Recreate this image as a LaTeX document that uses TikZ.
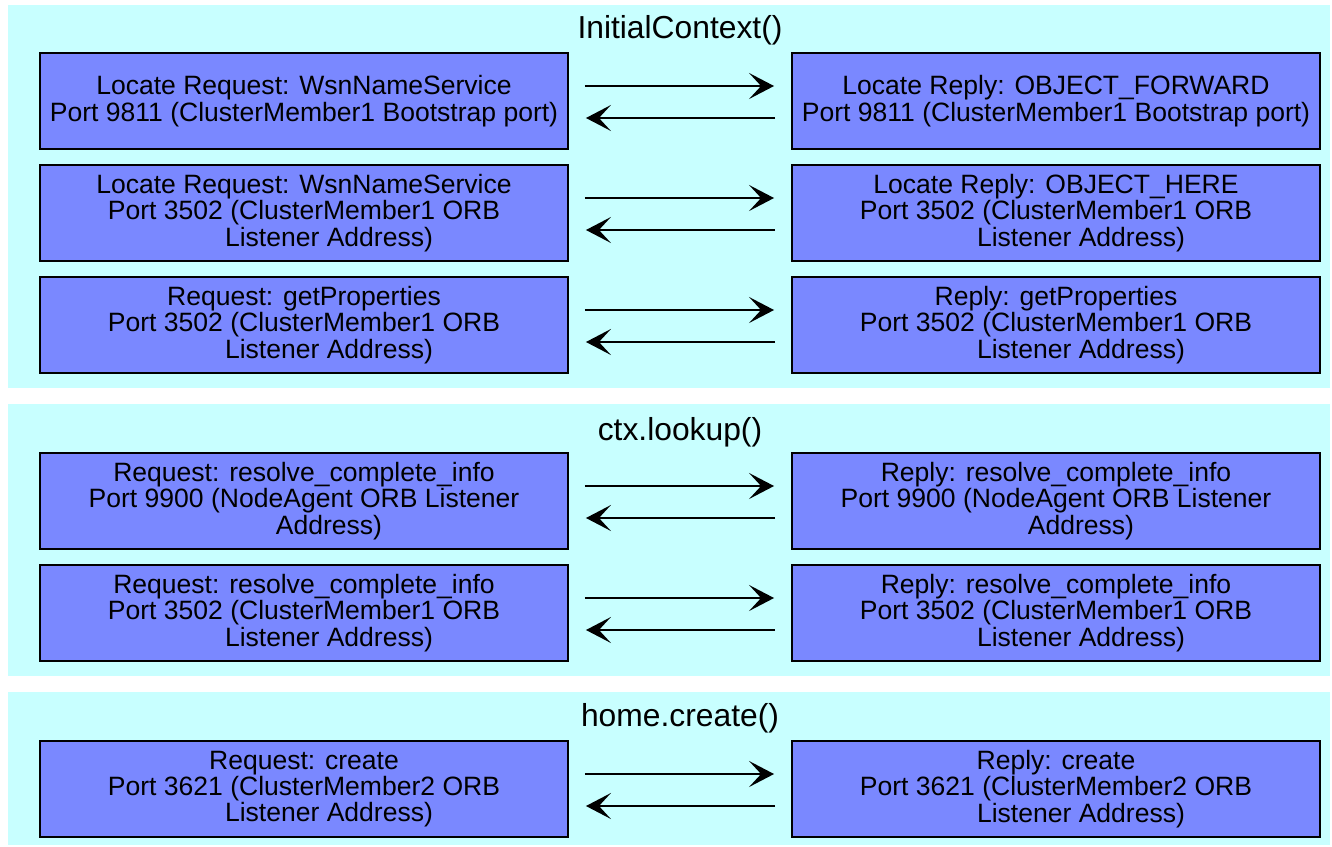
\documentclass[tikz,border=0pt]{standalone}
\usepackage{fontspec}
\setmainfont{Liberation Sans}
\usetikzlibrary{arrows.meta}
\definecolor{panelcyan}{RGB}{200,255,255}
\definecolor{msgblue}{RGB}{122,136,255}
\tikzset{
  panel/.style={fill=panelcyan, draw=none},
  msg/.style={
    draw=black,
    fill=msgblue,
    line width=0.04cm,
    minimum width=10.56cm,
    minimum height=1.92cm,
    inner sep=0pt,
    align=center,
    font=\fontsize{15.1}{15}\selectfont
  },
  phase/.style={font=\fontsize{18.1}{20}\selectfont, inner sep=0pt},
  flow/.style={
    line width=0.04cm,
    -{Stealth[length=0.5cm,width=0.52cm,inset=0.24cm]},
    shorten <=0.32cm,
    shorten >=0.34cm
  }
}
% wrapped last line sits a little to the right
\newcommand{\wrapline}{\hspace*{1cm}}

\begin{document}
\begin{tikzpicture}[x=0.02cm, y=-0.02cm]
  \useasboundingbox (0,0) rectangle (1332,846);

  % Background panels, one per call
  \fill[panel] (8,5) rectangle (1330,388);
  \fill[panel] (8,404) rectangle (1330,676);
  \fill[panel] (8,692) rectangle (1330,845);

  \node[phase] (ctxtitle) at (680,30) {InitialContext()};
  \node[phase] (lookuptitle) at (680,432) {ctx.lookup()};
  \node[phase] (createtitle) at (680,718) {home.create()};

  % InitialContext()
  \node[msg] (req1) at (304,101) {Locate Request: WsnNameService\\Port 9811 (ClusterMember1 Bootstrap port)};
  \node[msg] (rep1) at (1056,101) {Locate Reply: OBJECT\_FORWARD\\Port 9811 (ClusterMember1 Bootstrap port)};
  \node[msg] (req2) at (304,213) {Locate Request: WsnNameService\\Port 3502 (ClusterMember1 ORB\\\wrapline Listener Address)};
  \node[msg] (rep2) at (1056,213) {Locate Reply: OBJECT\_HERE\\Port 3502 (ClusterMember1 ORB\\\wrapline Listener Address)};
  \node[msg] (req3) at (304,325) {Request: getProperties\\Port 3502 (ClusterMember1 ORB\\\wrapline Listener Address)};
  \node[msg] (rep3) at (1056,325) {Reply: getProperties\\Port 3502 (ClusterMember1 ORB\\\wrapline Listener Address)};

  % ctx.lookup()
  \node[msg] (req4) at (304,501) {Request: resolve\_complete\_info\\Port 9900 (NodeAgent ORB Listener\\\wrapline Address)};
  \node[msg] (rep4) at (1056,501) {Reply: resolve\_complete\_info\\Port 9900 (NodeAgent ORB Listener\\\wrapline Address)};
  \node[msg] (req5) at (304,613) {Request: resolve\_complete\_info\\Port 3502 (ClusterMember1 ORB\\\wrapline Listener Address)};
  \node[msg] (rep5) at (1056,613) {Reply: resolve\_complete\_info\\Port 3502 (ClusterMember1 ORB\\\wrapline Listener Address)};

  % home.create()
  \node[msg] (req6) at (304,789) {Request: create\\Port 3621 (ClusterMember2 ORB\\\wrapline Listener Address)};
  \node[msg] (rep6) at (1056,789) {Reply: create\\Port 3621 (ClusterMember2 ORB\\\wrapline Listener Address)};

  % Request out, reply back
  \foreach \i in {1,...,6} {
    \draw[flow] ([yshift=0.3cm]req\i.east) -- ([yshift=0.3cm]rep\i.west);
    \draw[flow] ([yshift=-0.34cm]rep\i.west) -- ([yshift=-0.34cm]req\i.east);
  }
\end{tikzpicture}
\end{document}
